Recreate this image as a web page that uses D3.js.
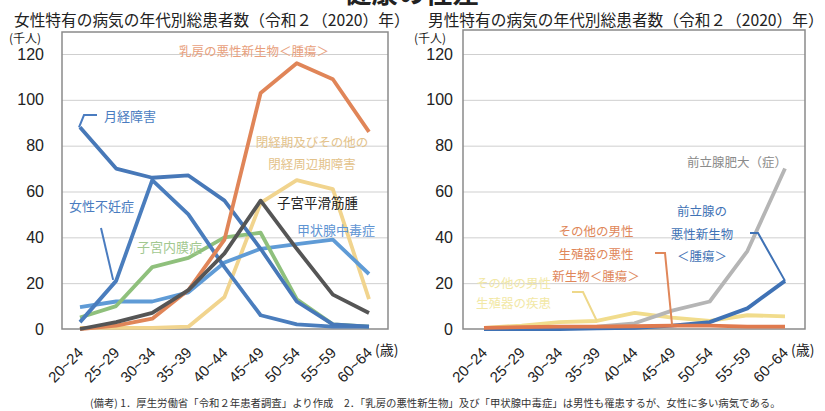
<!DOCTYPE html>
<html>
<head>
<meta charset="utf-8">
<script src="https://d3js.org/d3.v7.min.js"></script>
<style>
  body { margin: 0; background: #fff; }
  text { font-family: "Noto Sans CJK JP", "Liberation Sans", sans-serif; }
  .num { font-family: "Liberation Sans", Arial, sans-serif; }
</style>
</head>
<body>
<script>
// ****DATA**** (thousand persons)
const ages = ["20~24", "25~29", "30~34", "35~39", "40~44", "45~49", "50~54", "55~59", "60~64"];
const yTicks = [0, 20, 40, 60, 80, 100, 120];

// women
const menstrual     = [88, 70, 66, 67, 56, 35, 12, 2, 1];
const infertility   = [3, 21, 65, 50, 27, 6, 2, 1, 1];
const thyroid       = [9.5, 12, 12, 16, 29, 35, 37, 39, 24];
const endometriosis = [5, 10, 27, 31, 40, 42, 13, 2, 1];
const breastCancer  = [0, 1.5, 4.5, 17, 39, 103, 116, 109, 86];
const leiomyoma     = [0, 3, 7, 17, 33, 56, 35, 15, 7];
const menopause     = [0.5, 0.5, 0.5, 1, 14, 55, 65, 61, 13];

// men
const bph              = [0, 0, 0.5, 1, 2.5, 8, 12, 34, 70];
const prostateCancer   = [0, 0, 0, 0.3, 0.5, 1.5, 3, 9, 21];
const otherMaleCancer  = [0.5, 0.8, 1, 1, 1.2, 1.5, 1.5, 1, 1];
const otherMaleDisease = [0.5, 1.5, 3, 3.5, 7, 5, 3.5, 6, 5.5];

const W = 825, H = 411;
const svg = d3.select('body').append('svg')
    .attr('width', W).attr('height', H);

svg.append('rect').attr('width', W).attr('height', H).attr('fill', '#fff');

// page heading, cut off by the top edge
svg.append('text')
    .attr('x', 412).attr('y', 3)
    .attr('text-anchor', 'middle')
    .style('font-size', '27px').style('font-weight', 'bold')
    .attr('fill', '#222')
    .text('健康の性差');

function drawPanel(p) {
    const g = svg.append('g');
    const y = d3.scaleLinear().domain([0, 120]).range([329, 54]);
    const x = d3.scalePoint().domain(ages).range([p.px0, p.px1]);

    // title
    g.append('text')
        .attr('x', p.titleX).attr('y', 26)
        .style('font-size', '15.7px').attr('fill', '#222')
        .text(p.title);

    // unit
    g.append('text')
        .attr('x', p.unitX).attr('y', 43)
        .style('font-size', '12px').attr('fill', '#222')
        .text('(千人)');

    // gridlines
    g.append('g')
        .attr('transform', `translate(${p.fx0},0)`)
        .call(d3.axisLeft(y).tickValues(yTicks.slice(1)).tickSize(-(p.fx1 - p.fx0)).tickFormat(''))
        .call(s => s.select('.domain').remove())
        .selectAll('line').attr('stroke', '#cfcfcf').attr('stroke-width', 1);

    // frame
    g.append('rect')
        .attr('x', p.fx0).attr('y', p.fy0)
        .attr('width', p.fx1 - p.fx0).attr('height', y(0) - p.fy0)
        .attr('fill', 'none').attr('stroke', '#8a8a8a').attr('stroke-width', 1.5);

    // y axis labels
    g.append('g')
        .attr('transform', `translate(${p.yLabelX},0)`)
        .call(d3.axisLeft(y).tickValues(yTicks).tickSize(0).tickPadding(0))
        .call(s => s.select('.domain').remove())
        .selectAll('text')
        .attr('class', 'num')
        .style('font-size', '16px').attr('fill', '#222');

    // x axis labels
    g.append('g')
        .attr('transform', 'translate(0,350)')
        .call(d3.axisBottom(x).tickSize(0).tickPadding(0))
        .call(s => s.select('.domain').remove())
        .selectAll('text')
        .attr('class', 'num')
        .attr('x', 0).attr('y', 0).attr('dy', '0.35em')
        .attr('text-anchor', 'end')
        .attr('transform', 'rotate(-45)')
        .style('font-size', '15px').attr('fill', '#222');

    g.append('text')
        .attr('x', p.px1 + 6).attr('y', 355)
        .style('font-size', '14px').attr('fill', '#222')
        .text('(歳)');

    // lines
    const line = d3.line()
        .x((d, i) => x(ages[i]))
        .y(d => y(d));

    p.series.forEach(s => {
        g.append('path')
            .attr('d', line(s.values))
            .attr('fill', 'none')
            .attr('stroke', s.color)
            .attr('stroke-width', 3.8)
            .attr('stroke-linejoin', 'round');
    });

    // labels with leader lines
    p.labels.forEach(l => {
        if (l.leader) {
            const end = [x(ages[l.leader.at]) + (l.leader.dx || 0), y(l.leader.values[l.leader.at]) + (l.leader.dy || 0)];
            const pts = l.leader.pts.concat([end]);
            g.append('path')
                .attr('d', d3.line()(pts))
                .attr('fill', 'none')
                .attr('stroke', l.leader.color || l.color)
                .attr('stroke-width', 2);
        }
        l.lines.forEach((t, i) => {
            g.append('text')
                .attr('x', l.x).attr('y', l.y + i * l.lh)
                .attr('dy', '0.35em')
                .attr('text-anchor', l.anchor || 'start')
                .style('font-size', (l.size || 12.5) + 'px')
                .attr('fill', l.color)
                .text(t);
        });
    });
}

drawPanel({
    title: '女性特有の病気の年代別総患者数（令和２（2020）年）',
    titleX: 14, unitX: 9, yLabelX: 44,
    fx0: 62, fx1: 388, fy0: 32,
    px0: 80, px1: 369,
    series: [
        { values: menopause, color: '#f1d48e' },
        { values: thyroid, color: '#5f9bd6' },
        { values: endometriosis, color: '#8fc07c' },
        { values: infertility, color: '#4a7dbd' },
        { values: menstrual, color: '#4778b8' },
        { values: breastCancer, color: '#e08558' },
        { values: leiomyoma, color: '#555555' }
    ],
    labels: [
        { lines: ['乳房の悪性新生物＜腫瘍＞'], x: 254, y: 52, lh: 0, anchor: 'middle', color: '#e8a07c' },
        { lines: ['月経障害'], x: 104, y: 116, lh: 0, color: '#4a7cc0', size: 13,
          leader: { pts: [[97, 115], [84, 115]], at: 0, values: menstrual, dx: -1, dy: 0 } },
        { lines: ['女性不妊症'], x: 69, y: 206, lh: 0, color: '#4a7cc0', size: 13,
          leader: { pts: [[101, 228]], at: 1, values: infertility, dx: -3, dy: -1 } },
        { lines: ['子宮内膜症'], x: 137, y: 247, lh: 0, color: '#a2c890', size: 13 },
        { lines: ['閉経期及びその他の', '閉経周辺期障害'], x: 312, y: 143, lh: 22, anchor: 'middle', color: '#e3c28a' },
        { lines: ['子宮平滑筋腫'], x: 277, y: 203, lh: 0, color: '#222', size: 13.5 },
        { lines: ['甲状腺中毒症'], x: 297, y: 230, lh: 0, color: '#5f95d3', size: 13 }
    ]
});

drawPanel({
    title: '男性特有の病気の年代別総患者数（令和２（2020）年）',
    titleX: 428, unitX: 414, yLabelX: 453,
    fx0: 463, fx1: 805, fy0: 30,
    px0: 484, px1: 785,
    series: [
        { values: otherMaleDisease, color: '#f1dc8c' },
        { values: bph, color: '#b5b5b5' },
        { values: prostateCancer, color: '#3f72b5' },
        { values: otherMaleCancer, color: '#e07a4e' }
    ],
    labels: [
        { lines: ['前立腺肥大（症）'], x: 687, y: 163, lh: 0, color: '#8a8a8a' },
        { lines: ['前立腺の', '悪性新生物', '＜腫瘍＞'], x: 702, y: 212, lh: 22.5, anchor: 'middle', color: '#3f72b5',
          leader: { pts: [[750, 233], [758, 233]], at: 8, values: prostateCancer, dx: 0, dy: 0 } },
        { lines: ['その他の男性', '生殖器の悪性', '新生物＜腫瘍＞'], x: 596, y: 232, lh: 22.5, anchor: 'middle', color: '#e0875a',
          leader: { pts: [[655, 253], [665, 253]], at: 5, values: otherMaleCancer, dx: 0, dy: 0 } },
        { lines: ['その他の男性', '生殖器の疾患'], x: 476, y: 284, lh: 20, color: '#f2e8a6',
          leader: { pts: [[572, 292], [583, 292]], at: 3, values: otherMaleDisease, dx: 0, dy: 0, color: '#eed88a' } }
    ]
});

// note
svg.append('text')
    .attr('x', 90).attr('y', 407)
    .style('font-size', '10.4px').attr('fill', '#333')
    .text('(備考) 1．厚生労働省「令和２年患者調査」より作成　2．「乳房の悪性新生物」及び「甲状腺中毒症」は男性も罹患するが、女性に多い病気である。');
</script>
</body>
</html>
